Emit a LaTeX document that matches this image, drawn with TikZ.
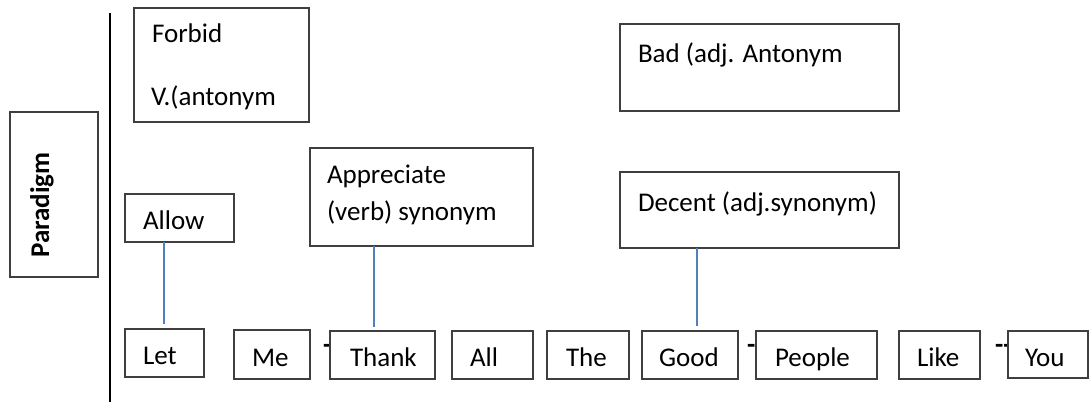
\documentclass[tikz,border=0pt]{standalone}
\usepackage{fontspec}
\setmainfont{Carlito}
\definecolor{boxgray}{HTML}{3F3F3F}
\definecolor{linkblue}{HTML}{4F81BD}
\begin{document}
\begin{tikzpicture}[x=1pt,y=-1pt,
  box/.style={draw=boxgray, line width=1.1pt, fill=white, inner sep=0pt, outer sep=0pt, anchor=north west},
  txt/.style={inner sep=0pt, outer sep=0pt, anchor=base west, font=\fontsize{27}{30}\selectfont},
  dashtxt/.style={txt, font=\fontsize{27}{30}\selectfont\bfseries},
  link/.style={draw=linkblue, line width=1.3pt},
  sep/.style={draw=black, line width=1.6pt}
]
\useasboundingbox (0,0) rectangle (1089,404);

% separator line
\coordinate (sepTop) at (110,13);
\coordinate (sepBot) at (110,402);
\draw[sep] (sepTop) -- (sepBot);

% hyphens partly hidden behind word boxes
\node[dashtxt] (h1) at (323,353) {-};
\node[dashtxt] (h2) at (747,353) {-};
\node[dashtxt] (h3) at (995,353) {-{}-};

% paradigm box
\node[box, minimum width=88pt, minimum height=165pt] (paradigm) at (10,112) {};
\node[inner sep=0pt, anchor=base, rotate=90, font=\fontsize{27}{30}\selectfont\bfseries] (paradigmtxt) at (49,205) {Paradigm};

% paradigm boxes
\node[box, minimum width=175pt, minimum height=114pt] (forbid) at (134,8) {};
\node[txt] (forbidA) at (152,43) {Forbid};
\node[txt] (forbidB) at (151,105) {V.(antonym};

\node[box, minimum width=109pt, minimum height=48pt] (allow) at (125,194) {};
\node[txt] (allowtxt) at (143,229) {Allow};

\node[box, minimum width=223pt, minimum height=98pt] (appreciate) at (310,148) {};
\node[txt] (appA) at (327,183) {Appreciate};
\node[txt] (appB) at (327,220) {(verb) synonym};

\node[box, minimum width=279pt, minimum height=87pt] (bad) at (620,24) {};
\node[txt] (badtxt) at (638,63) {Bad (adj. Antonym};

\node[box, minimum width=279pt, minimum height=76pt] (decent) at (620,172) {};
\node[txt] (decenttxt) at (638,211) {Decent (adj.synonym)};

% syntagm word boxes
\node[box, minimum width=79pt, minimum height=48pt] (let) at (125,329) {};
\node[txt] at (143,364) {Let};
\node[box, minimum width=76pt, minimum height=49pt] (me) at (234,330) {};
\node[txt] at (252,366) {Me};
\node[box, minimum width=105pt, minimum height=48pt] (thank) at (330,331) {};
\node[txt] at (350,366) {Thank};
\node[box, minimum width=81pt, minimum height=48pt] (all) at (452,331) {};
\node[txt] at (470,366) {All};
\node[box, minimum width=82pt, minimum height=48pt] (the) at (547,331) {};
\node[txt] at (566,366) {The};
\node[box, minimum width=96pt, minimum height=48pt] (good) at (642,331) {};
\node[txt] at (659,366) {Good};
\node[box, minimum width=121pt, minimum height=48pt] (people) at (756,331) {};
\node[txt] at (775,366) {People};
\node[box, minimum width=81pt, minimum height=48pt] (like) at (899,331) {};
\node[txt] at (917,366) {Like};
\node[box, minimum width=80pt, minimum height=47pt] (you) at (1008,331) {};
\node[txt] at (1025,366) {You};

% connectors
\coordinate (e1) at (164,324);
\coordinate (e2) at (374,327);
\coordinate (e3) at (697,326);
\draw[link] (allow.south -| e1) -- (e1);
\draw[link] (appreciate.south -| e2) -- (e2);
\draw[link] (decent.south -| e3) -- (e3);
\end{tikzpicture}
\end{document}
